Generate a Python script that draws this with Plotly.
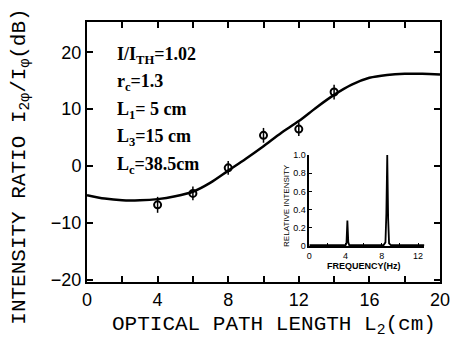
import plotly.graph_objects as go

# Measured data points (optical path length L2 in cm, intensity ratio dB)
pts_x = [4, 6, 8, 10, 12, 14]
pts_y = [-6.8, -4.8, -0.3, 5.4, 6.5, 13.0]
pts_err = [1.4, 1.2, 1.2, 1.3, 1.2, 1.3]

# Theoretical curve
curve_x = [0, 1, 2, 3, 4, 5, 6, 7, 8, 9, 10, 11, 12, 13, 14, 15, 16, 17, 18, 19, 20]
curve_y = [-5.1, -5.7, -6.0, -6.0, -5.8, -5.3, -4.5, -2.9, -0.8, 1.3, 3.5, 5.8, 7.9, 10.3, 12.5, 14.3, 15.5, 16.0, 16.2, 16.2, 16.1]

# Inset spectrum
freq = [0, 2.0, 4.0, 4.1, 4.2, 4.3, 4.4, 8.2, 8.4, 8.5, 8.6, 8.7, 8.8, 9.0, 12.7]
inten = [0.01, 0.01, 0.01, 0.03, 0.28, 0.04, 0.01, 0.01, 0.04, 0.35, 1.0, 0.3, 0.03, 0.01, 0.01]

params = ["I/I<sub>TH</sub>=1.02", "r<sub>c</sub>=1.3", "L<sub>1</sub>= 5 cm", "L<sub>3</sub>=15 cm", "L<sub>c</sub>=38.5cm"]

fig = go.Figure()
fig.add_trace(go.Scatter(x=curve_x, y=curve_y, mode="lines",
                         line=dict(color="black", width=2.5, shape="spline", smoothing=0.8),
                         showlegend=False, hoverinfo="skip"))
fig.add_trace(go.Scatter(x=pts_x, y=pts_y, mode="markers",
                         marker=dict(symbol="circle-open", size=7, color="black", line=dict(width=2)),
                         error_y=dict(type="data", array=pts_err, color="black", thickness=1.5, width=0),
                         showlegend=False))
fig.add_trace(go.Scatter(x=freq, y=inten, mode="lines", line=dict(color="black", width=1.8),
                         xaxis="x2", yaxis="y2", showlegend=False))

W, H = 462, 346
L, R, T, B = 87, 13, 22, 64
pw, ph = W - L - R, H - T - B

def px(xp):
    return (xp - L) / pw

def py(yp):
    return (H - B - yp) / ph

mono = "Liberation Mono"
fig.update_layout(
    width=W, height=H, margin=dict(l=L, r=R, t=T, b=B),
    paper_bgcolor="white", plot_bgcolor="white",
    xaxis=dict(range=[0, 20], tickvals=[0, 4, 8, 12, 16, 20], ticks="inside", ticklen=6, tickwidth=2,
               tickcolor="black", minor=dict(dtick=2, ticks="inside", ticklen=6, tickwidth=2, tickcolor="black"),
               showline=True, linecolor="black", linewidth=2, mirror="ticks", showgrid=False, zeroline=False,
               tickfont=dict(family="Liberation Sans", size=18, color="black")),
    yaxis=dict(range=[-20.35, 25.3], tickvals=[-20, -10, 0, 10, 20], ticks="inside", ticklen=6, tickwidth=2,
               tickcolor="black", showline=True, linecolor="black", linewidth=2, mirror="ticks",
               showgrid=False, zeroline=False,
               tickfont=dict(family="Liberation Sans", size=18, color="black")),
    xaxis2=dict(domain=[px(315), px(433)], anchor="y2", range=[0, 12.7], tickvals=[0, 4, 8, 12],
                ticks="inside", ticklen=3, tickwidth=1, tickcolor="black",
                minor=dict(dtick=2, ticks="inside", ticklen=3, tickcolor="black"),
                showline=True, linecolor="black", linewidth=1.5, showgrid=False, zeroline=False,
                tickfont=dict(family="Liberation Sans", size=9, color="black")),
    yaxis2=dict(domain=[py(246), py(155)], anchor="x2", range=[0, 1.0],
                tickvals=[0, 0.2, 0.4, 0.6, 0.8, 1.0], ticktext=["0", "0.2", "0.4", "0.6", "0.8", "1.0"],
                ticks="inside", ticklen=3, tickwidth=1, tickcolor="black",
                showline=True, linecolor="black", linewidth=1.5, showgrid=False, zeroline=False,
                tickfont=dict(family="Liberation Sans", size=9, color="black")),
)

ann = []
ann.append(dict(text="OPTICAL PATH LENGTH L<sub>2</sub>(cm)", x=px(279), y=py(325), xref="paper", yref="paper",
                showarrow=False, font=dict(family=mono, size=21, color="black"), xanchor="center", yanchor="middle"))
ann.append(dict(text="INTENSITY RATIO I<sub>2φ</sub>/I<sub>φ</sub>(dB)", x=px(18), y=py(167), xref="paper", yref="paper",
                showarrow=False, textangle=-90, font=dict(family=mono, size=21, color="black"),
                xanchor="center", yanchor="middle"))
ann.append(dict(text="RELATIVE INTENSITY", x=px(292), y=py(205), xref="paper", yref="paper", showarrow=False,
                textangle=-90, font=dict(family="Liberation Sans", size=8, color="black"),
                xanchor="center", yanchor="middle"))
ann.append(dict(text="<b>FREQUENCY(Hz)</b>", x=px(371), y=py(266), xref="paper", yref="paper", showarrow=False,
                font=dict(family="Liberation Sans", size=9, color="black"), xanchor="center", yanchor="middle"))
for i, t in enumerate(params):
    ann.append(dict(text="<b>" + t + "</b>", x=px(116), y=py(55 + 27.5 * i), xref="paper", yref="paper",
                    showarrow=False, font=dict(family="Liberation Serif", size=18, color="black"),
                    xanchor="left", yanchor="middle"))
fig.update_layout(annotations=ann)

fig.write_html("out.html", config={"displayModeBar": False}, post_script="document.body.style.margin='0';")
